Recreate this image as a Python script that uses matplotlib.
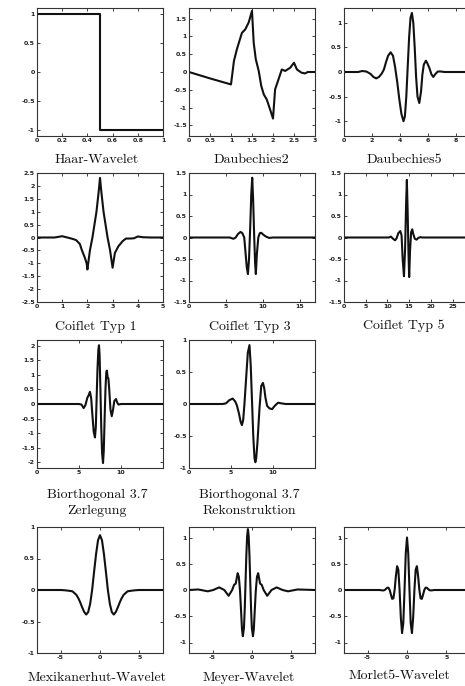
import matplotlib
matplotlib.use("Agg")
import matplotlib.pyplot as plt
from matplotlib.ticker import FuncFormatter

plt.rcParams['axes.unicode_minus'] = False

# values
haar_x = [0, 0.5, 0.5, 1]
haar_y = [1, 1, -1, -1]

db2_x = [0, 0.5, 1.0, 1.07, 1.14, 1.26, 1.34, 1.42, 1.5, 1.54, 1.59, 1.66, 1.72, 1.78,
         1.85, 1.93, 2.0, 2.05, 2.13, 2.21, 2.29, 2.41, 2.5, 2.57, 2.68, 2.76, 2.83, 3.0]
db2_y = [0, -0.18, -0.35, 0.31, 0.64, 1.1, 1.2, 1.39, 1.72, 0.83, 0.36, 0.03, -0.39, -0.63,
         -0.77, -1.05, -1.31, -0.49, -0.21, 0.07, 0.03, 0.12, 0.26, 0.07, -0.02, -0.04, 0, 0]

db5_x = [0, 1.0, 1.3, 1.6, 1.9, 2.1, 2.3, 2.5, 2.7, 2.85, 3.0, 3.15, 3.33, 3.5, 3.65, 3.8,
         3.95, 4.1, 4.25, 4.35, 4.45, 4.55, 4.65, 4.75, 4.85, 4.95, 5.05, 5.15, 5.25, 5.38,
         5.5, 5.6, 5.7, 5.85, 5.95, 6.1, 6.25, 6.38, 6.5, 6.7, 6.9, 7.2, 9]
db5_y = [0, 0, 0.02, 0.01, -0.04, -0.1, -0.13, -0.1, -0.03, 0.05, 0.2, 0.33, 0.4, 0.33, 0.1, -0.2,
         -0.55, -0.85, -1.0, -0.9, -0.5, 0.1, 0.7, 1.1, 1.2, 1.0, 0.5, -0.1, -0.5, -0.63,
         -0.4, -0.05, 0.15, 0.23, 0.18, 0.08, -0.05, -0.1, -0.05, 0.01, 0.01, 0, 0]

coif1_x = [0, 0.7, 1.0, 1.2, 1.4, 1.55, 1.7, 1.77, 1.9, 1.97, 2.0, 2.1, 2.2, 2.36, 2.45, 2.5,
           2.55, 2.64, 2.8, 2.9, 3.0, 3.09, 3.23, 3.4, 3.53, 3.7, 3.85, 4.0, 4.2, 4.5, 5]
coif1_y = [0, 0, 0.05, 0, -0.05, -0.1, -0.25, -0.46, -0.79, -1.0, -1.24, -0.5, 0, 1.0, 1.8, 2.31,
           1.8, 1.0, 0, -0.5, -1.17, -0.6, -0.34, -0.14, -0.04, -0.04, -0.03, 0.04, 0.01, 0, 0]

coif3_x = [0, 5.5, 6.0, 6.3, 6.6, 6.95, 7.2, 7.45, 7.6, 7.8, 7.95, 8.1, 8.25, 8.4, 8.53, 8.65,
           8.8, 8.92, 9.02, 9.15, 9.35, 9.55, 9.75, 10.0, 10.3, 10.8, 11.3, 17]
coif3_y = [0, 0, -0.03, 0, 0.08, 0.13, 0.1, 0, -0.3, -0.7, -0.85, -0.5, 0.2, 1.0, 1.39, 0.9,
           0, -0.6, -0.85, -0.4, 0, 0.1, 0.11, 0.07, 0.03, -0.01, 0, 0]

coif5_x = [0, 10.3, 10.8, 11.3, 11.75, 12.1, 12.5, 12.95, 13.25, 13.5, 13.8, 14.05, 14.3, 14.47,
           14.65, 14.85, 15.0, 15.2, 15.45, 15.7, 15.95, 16.3, 16.7, 17.1, 17.6, 18, 29]
coif5_y = [0, 0, 0.02, -0.03, -0.065, -0.02, 0.1, 0.15, 0.05, -0.5, -0.9, -0.3, 0.8, 1.34,
           0.6, -0.4, -0.92, -0.3, 0.12, 0.19, 0.08, -0.03, -0.05, -0.01, 0.01, 0, 0]

biorz_x = [0, 5.0, 5.3, 5.55, 5.75, 6.0, 6.15, 6.3, 6.45, 6.6, 6.75, 6.9, 7.0, 7.1, 7.2, 7.3,
           7.38, 7.45, 7.55, 7.65, 7.75, 7.86, 7.95, 8.05, 8.15, 8.25, 8.32, 8.42, 8.5, 8.6,
           8.75, 8.9, 9.05, 9.2, 9.4, 9.55, 9.7, 10, 15]
biorz_y = [0, 0, -0.02, -0.14, -0.05, 0.22, 0.3, 0.42, 0.2, -0.4, -0.95, -1.15, -0.8, 0.2, 1.2, 1.85,
           2.02, 1.7, 0.5, -0.8, -1.7, -2.03, -1.6, -0.5, 0.5, 1.1, 1.15, 0.9, 0.88, 0.5,
           -0.2, -0.42, -0.2, 0.1, 0.17, 0.05, -0.02, 0, 0]

biorr_x = [0, 4.0, 4.4, 4.8, 5.2, 5.5, 5.7, 5.95, 6.15, 6.3, 6.45, 6.6, 6.8, 7.0, 7.2, 7.35,
           7.5, 7.65, 7.8, 7.9, 8.0, 8.15, 8.4, 8.6, 8.8, 8.95, 9.1, 9.3, 9.6, 9.9, 10.2,
           10.6, 11.0, 11.5, 15]
biorr_y = [0, 0, 0.01, 0.06, 0.085, 0.04, -0.02, -0.15, -0.28, -0.33, -0.25, 0, 0.4, 0.8, 0.92, 0.6,
           0.05, -0.5, -0.85, -0.91, -0.85, -0.6, -0.05, 0.28, 0.33, 0.25, 0.1, -0.03, -0.07, -0.08, -0.03,
           0.02, 0.01, 0, 0]

mex_x = [-8, -6, -5, -4.5, -4, -3.5, -3, -2.75, -2.5, -2.25, -2, -1.75, -1.5, -1.25, -1, -0.75,
         -0.5, -0.25, 0, 0.25, 0.5, 0.75, 1, 1.25, 1.5, 1.75, 2, 2.25, 2.5, 2.75, 3, 3.5, 4,
         4.5, 5, 6, 8]
mex_y = [0, 0, 0, -0.004, -0.011, -0.021, -0.077, -0.13, -0.2, -0.28, -0.35, -0.39, -0.35, -0.22, 0, 0.29,
         0.57, 0.79, 0.87, 0.79, 0.57, 0.29, 0, -0.22, -0.35, -0.39, -0.35, -0.28, -0.2, -0.13, -0.077, -0.021, -0.011,
         -0.004, 0, 0, 0]

meyer_x = [-8.0, -6.82, -5.62, -4.92, -4.17, -3.52, -2.97, -2.52, -2.27, -2.07, -1.82, -1.67,
           -1.52, -1.37, -1.27, -1.16, -1.02, -0.92, -0.82, -0.72, -0.62, -0.52,
           -0.42, -0.32, -0.22, -0.12, -0.02, 0.12, 0.23, 0.33, 0.48, 0.63, 0.78, 1.03,
           1.23, 1.48, 1.93, 2.48, 3.13, 3.88, 4.58, 5.78, 8.0]
meyer_y = [0, 0.01, -0.025, 0, 0.05, 0, -0.11, 0, 0.1, 0.12, 0.32, 0.25,
           -0.02, -0.45, -0.75, -0.88, -0.72, -0.35, 0.15, 0.65, 1.02, 1.16,
           1.02, 0.65, 0.15, -0.35, -0.72, -0.88, -0.75, -0.45, -0.02, 0.25, 0.32, 0.12,
           0.1, 0, -0.11, 0, 0.05, 0, -0.025, 0.01, 0]

morl_x = [-8, -3.5, -3.14, -2.985, -2.827, -2.67, -2.513, -2.356, -2.199, -2.042, -1.885, -1.728,
          -1.571, -1.414, -1.257, -1.1, -0.942, -0.785, -0.628, -0.471, -0.314, -0.157, 0,
          0.157, 0.314, 0.471, 0.628, 0.785, 0.942, 1.1, 1.257, 1.414, 1.571, 1.728, 1.885,
          2.042, 2.199, 2.356, 2.513, 2.67, 2.827, 2.985, 3.14, 3.5, 8]
morl_y = [0, 0, -0.007, -0.008, 0, 0.02, 0.043, 0.044, 0, -0.088, -0.169, -0.159,
          0, 0.26, 0.454, 0.386, 0, -0.52, -0.821, -0.633, 0, 0.698, 1.0,
          0.698, 0, -0.633, -0.821, -0.52, 0, 0.386, 0.454, 0.26, 0, -0.159, -0.169,
          -0.088, 0, 0.044, 0.043, 0.02, 0, -0.008, -0.007, 0, 0]

titles = ["Haar-Wavelet", "Daubechies2", "Daubechies5",
          "Coiflet Typ 1", "Coiflet Typ 3", "Coiflet Typ 5",
          "Biorthogonal 3.7\nZerlegung", "Biorthogonal 3.7\nRekonstruktion",
          "Mexikanerhut-Wavelet", "Meyer-Wavelet", "Morlet5-Wavelet"]

half = [-1, -0.5, 0, 0.5, 1]
panels = [
    (haar_x, haar_y, (0, 1), (-1.1, 1.1), [0, 0.2, 0.4, 0.6, 0.8, 1], half),
    (db2_x, db2_y, (0, 3), (-1.8, 1.8), [0, 0.5, 1, 1.5, 2, 2.5, 3], [-1.5, -1, -0.5, 0, 0.5, 1, 1.5]),
    (db5_x, db5_y, (0, 9), (-1.3, 1.3), [0, 2, 4, 6, 8], half),
    (coif1_x, coif1_y, (0, 5), (-2.5, 2.5), [0, 1, 2, 3, 4, 5],
     [-2.5, -2, -1.5, -1, -0.5, 0, 0.5, 1, 1.5, 2, 2.5]),
    (coif3_x, coif3_y, (0, 17), (-1.5, 1.5), [0, 5, 10, 15], [-1.5, -1, -0.5, 0, 0.5, 1, 1.5]),
    (coif5_x, coif5_y, (0, 29), (-1.5, 1.5), [0, 5, 10, 15, 20, 25], [-1.5, -1, -0.5, 0, 0.5, 1, 1.5]),
    (biorz_x, biorz_y, (0, 15), (-2.2, 2.2), [0, 5, 10], [-2, -1.5, -1, -0.5, 0, 0.5, 1, 1.5, 2]),
    (biorr_x, biorr_y, (0, 15), (-1, 1), [0, 5, 10], half),
    (mex_x, mex_y, (-8, 8), (-1, 1), [-5, 0, 5], half),
    (meyer_x, meyer_y, (-8, 8), (-1.2, 1.2), [-5, 0, 5], half),
    (morl_x, morl_y, (-8, 8), (-1.2, 1.2), [-5, 0, 5], half),
]

W, H = 465, 686
fig = plt.figure(figsize=(W / 100, H / 100), dpi=100)

col_left = [37, 189, 344]
row_top = [8, 173, 340, 527]
row_bot = [136, 302, 468, 653]
title_pos = [(97, 160), (251, 160), (404, 160),
             (96, 327), (250, 327), (404, 326),
             (97, 503), (249, 503),
             (97, 678), (249, 678), (399, 676)]
slots = [(0, 0), (0, 1), (0, 2), (1, 0), (1, 1), (1, 2), (2, 0), (2, 1), (3, 0), (3, 1), (3, 2)]

fmt = FuncFormatter(lambda v, p: "%g" % v)

for i, (x, y, xl, yl, xt, yt) in enumerate(panels):
    r, c = slots[i]
    l = col_left[c]
    t, b = row_top[r], row_bot[r]
    ax = fig.add_axes([l / W, 1 - b / H, 126 / W, (b - t) / H])
    ax.plot(x, y, color='#111111', lw=1.5)
    ax.set_xlim(*xl)
    ax.set_ylim(*yl)
    ax.set_xticks(xt)
    ax.set_yticks(yt)
    ax.xaxis.set_major_formatter(fmt)
    ax.yaxis.set_major_formatter(fmt)
    ax.tick_params(direction='in', length=2, width=0.6, top=True, right=True,
                   labelsize=4.5, pad=1.5, colors='#222222')
    for lab in ax.get_xticklabels() + ax.get_yticklabels():
        lab.set_fontweight('bold')
    for s in ax.spines.values():
        s.set_linewidth(0.8)
        s.set_color('#333333')
    tx, ty = title_pos[i]
    fig.text(tx / W, 1 - ty / H, titles[i], ha='center', va='center',
             fontsize=10, family='cmr10', linespacing=1.5, color='#111111')

fig.savefig("out.png", dpi=100)
